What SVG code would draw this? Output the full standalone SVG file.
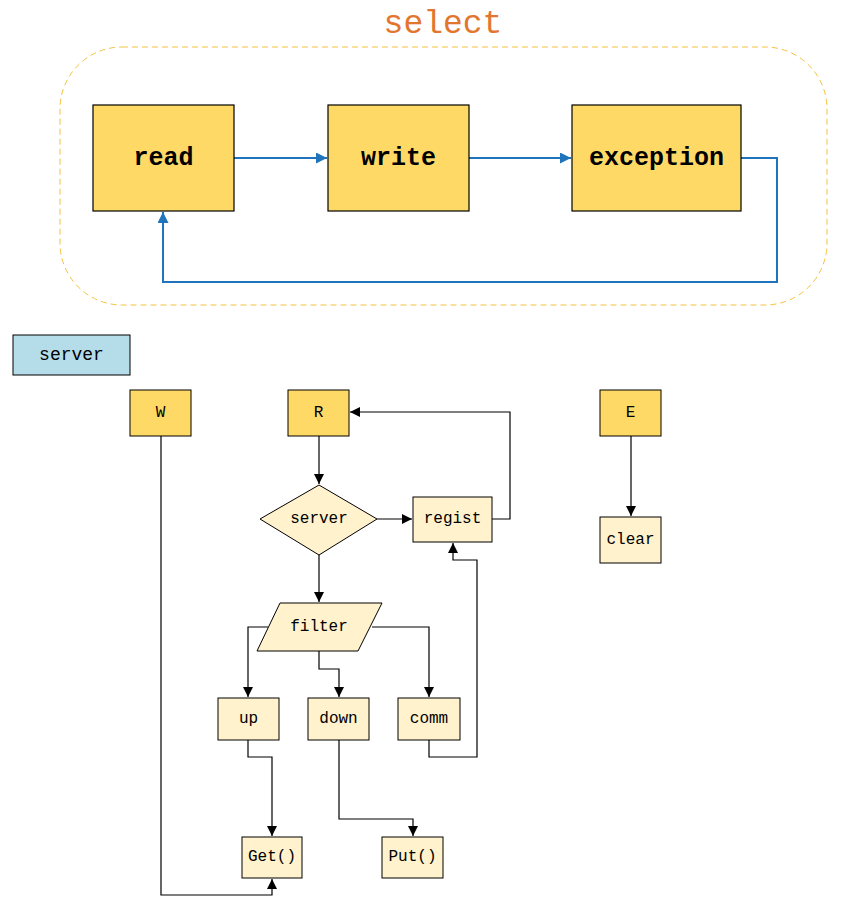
<svg xmlns="http://www.w3.org/2000/svg" width="862" height="904" viewBox="0 0 862 904">
<defs>
<style>
text{font-family:"Liberation Mono","DejaVu Sans Mono",monospace;text-anchor:middle;dominant-baseline:central;fill:#000}
.big{fill:#FFD966;stroke:#000;stroke-width:1.2}
.small{fill:#FFD966;stroke:#000;stroke-width:1}
.light{fill:#FFF2CC;stroke:#000;stroke-width:1}
.blue{fill:none;stroke:#1F74BC;stroke-width:2}
.blk{fill:none;stroke:#000;stroke-width:1.2}
.bt{font-size:25px;font-weight:bold}
.st{font-size:16px}
</style>
<marker id="ab" viewBox="0 0 10 10" refX="10" refY="5" markerWidth="13" markerHeight="11" markerUnits="userSpaceOnUse" orient="auto"><path d="M0,0 L10,5 L0,10 z" fill="#1F74BC"/></marker>
<marker id="ak" viewBox="0 0 10 10" refX="10" refY="5" markerWidth="11" markerHeight="10" markerUnits="userSpaceOnUse" orient="auto"><path d="M0,0 L10,5 L0,10 z" fill="#000"/></marker>
</defs>
<rect width="862" height="904" fill="#fff"/>
<g id="select-group">
<rect x="60" y="47" width="767" height="258" rx="62" ry="62" fill="none" stroke="#F5C242" stroke-width="1" stroke-dasharray="6,4"/>
<text x="443" y="24" style="font-size:33px;fill:#E2762E">select</text>
</g>
<g id="connectors">
<path class="blue" d="M234,158 H327" marker-end="url(#ab)"/>
<path class="blue" d="M469,158 H571" marker-end="url(#ab)"/>
<path class="blue" d="M741,158 H777 V282 H163 V212" marker-end="url(#ab)"/>
<path class="blk" d="M319,436 V484" marker-end="url(#ak)"/>
<path class="blk" d="M377,519 H412" marker-end="url(#ak)"/>
<path class="blk" d="M492,519 H510 V412 H350" marker-end="url(#ak)"/>
<path class="blk" d="M319,555 V602" marker-end="url(#ak)"/>
<path class="blk" d="M268,627 H248 V697" marker-end="url(#ak)"/>
<path class="blk" d="M319,651 V669 H339 V697" marker-end="url(#ak)"/>
<path class="blk" d="M372,627 H429 V697" marker-end="url(#ak)"/>
<path class="blk" d="M429,740 V757 H477 V560 H453 V543" marker-end="url(#ak)"/>
<path class="blk" d="M248,740 V757 H272 V836" marker-end="url(#ak)"/>
<path class="blk" d="M161,436 V895 H272 V879" marker-end="url(#ak)"/>
<path class="blk" d="M339,740 V819 H413 V836" marker-end="url(#ak)"/>
<path class="blk" d="M631,436 V516" marker-end="url(#ak)"/>
</g>
<g id="read"><rect class="big" x="93" y="105" width="141" height="106"/><text class="bt" x="163.5" y="158">read</text></g>
<g id="write"><rect class="big" x="328" y="105" width="141" height="106"/><text class="bt" x="398.5" y="158">write</text></g>
<g id="exception"><rect class="big" x="572" y="105" width="169" height="106"/><text class="bt" x="656.5" y="158">exception</text></g>
<g id="server-label"><rect x="13" y="335" width="117" height="40" fill="#B4DDE9" stroke="#000" stroke-width="1"/><text x="71.5" y="355" style="font-size:18px">server</text></g>
<g id="W"><rect class="small" x="130" y="390" width="61" height="46"/><text class="st" x="160.5" y="413">W</text></g>
<g id="R"><rect class="small" x="288" y="390" width="61" height="46"/><text class="st" x="318.5" y="413">R</text></g>
<g id="E"><rect class="small" x="600" y="390" width="61" height="46"/><text class="st" x="630.5" y="413">E</text></g>
<g id="server"><polygon class="light" points="260,519 319,485 377,519 319,555"/><text class="st" x="319" y="519">server</text></g>
<g id="regist"><rect class="light" x="413" y="497" width="79" height="45"/><text class="st" x="452.5" y="519">regist</text></g>
<g id="filter"><polygon class="light" points="280,603 382,603 358,651 257,651"/><text class="st" x="319" y="627">filter</text></g>
<g id="up"><rect class="light" x="218" y="698" width="61" height="42"/><text class="st" x="248.5" y="719">up</text></g>
<g id="down"><rect class="light" x="308" y="698" width="61" height="42"/><text class="st" x="338.5" y="719">down</text></g>
<g id="comm"><rect class="light" x="398" y="698" width="62" height="42"/><text class="st" x="429" y="719">comm</text></g>
<g id="get"><rect class="light" x="242" y="837" width="60" height="41"/><text class="st" x="272" y="857">Get()</text></g>
<g id="put"><rect class="light" x="382" y="837" width="61" height="41"/><text class="st" x="412.5" y="857">Put()</text></g>
<g id="clear"><rect class="light" x="600" y="517" width="61" height="46"/><text class="st" x="630.5" y="540">clear</text></g>
</svg>
